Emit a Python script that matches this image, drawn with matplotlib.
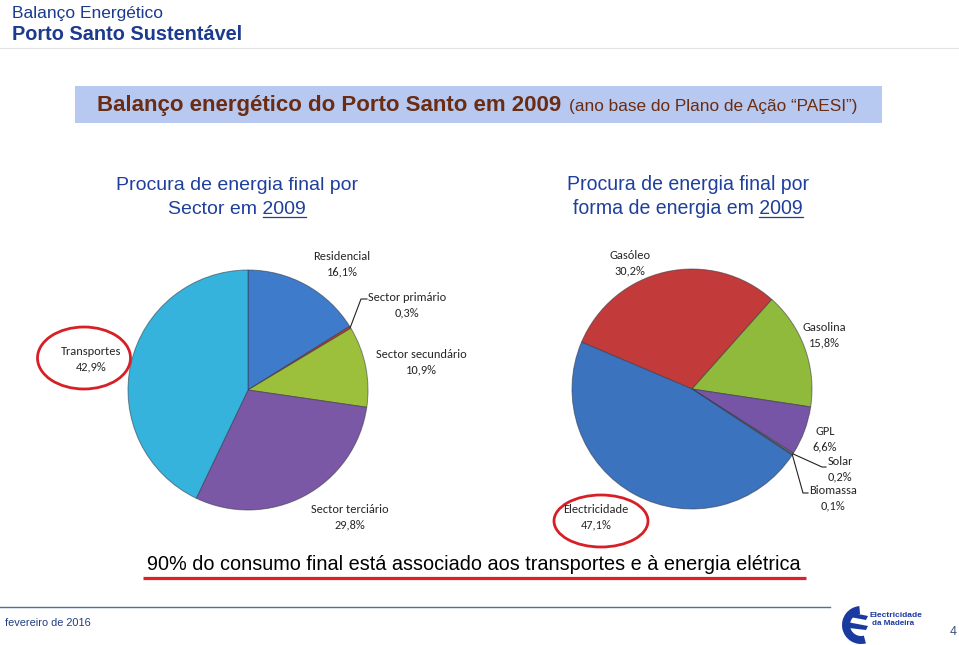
import numpy as np
import matplotlib
matplotlib.use("Agg")
import matplotlib.pyplot as plt
from matplotlib import font_manager
from matplotlib.patches import Ellipse, Rectangle, Wedge, Polygon

# ---------------- data ----------------
sector_labels = ["Residencial", "Sector primário", "Sector secundário",
                 "Sector terciário", "Transportes"]
sector_values = [16.1, 0.3, 10.9, 29.8, 42.9]

forma_labels = ["Gasóleo", "Gasolina", "GPL", "Solar", "Biomassa", "Electricidade"]
forma_values = [30.2, 15.8, 6.6, 0.2, 0.1, 47.1]

header_top = "Balanço Energético"
header_main = "Porto Santo Sustentável"
box_bold = "Balanço energético do Porto Santo em 2009"
box_regular = "(ano base do Plano de Ação “PAESI”)"
sub_left = ["Procura de energia final por", "Sector em ", "2009"]
sub_right = ["Procura de energia final por", "forma de energia em ", "2009"]
bottom_msg = "90% do consumo final está associado aos transportes e à energia elétrica"
footer_date = "fevereiro de 2016"
page_no = "4"

# ---------------- styles ----------------
names = {f.name for f in font_manager.fontManager.ttflist}
ARIAL = "Liberation Sans"
NARROW = "Liberation Sans Narrow" if "Liberation Sans Narrow" in names else ARIAL
CALIBRI = "Carlito" if "Carlito" in names else ("Lato" if "Lato" in names else "Open Sans")

sector_colors = ["#3f7bcb", "#c0392b", "#9dc03c", "#7b58a6", "#36b3dc"]
forma_colors = ["#c23b3a", "#8fba3c", "#7654a6", "#7f7f7f", "#4a7fc0", "#3b73bf"]

W, H = 959, 645
fig = plt.figure(figsize=(W / 100, H / 100), dpi=100)
ax = fig.add_axes([0, 0, 1, 1])
renderer = fig.canvas.get_renderer()


def Y(y):
    return H - y


def fit(x, y, s, width, ha="left", va="baseline", **kw):
    t = ax.text(x, Y(y), s, fontsize=10, ha=ha, va=va, **kw)
    w = t.get_window_extent(renderer).width
    t.set_fontsize(10 * width / w)
    return t


def text_width(s, size, **kw):
    t = ax.text(0, 0, s, fontsize=size, **kw)
    w = t.get_window_extent(renderer).width
    t.remove()
    return w


# ---------------- header ----------------
navy = "#1c3a8e"
fit(12, 18, header_top, 152, color=navy, family=ARIAL)
fit(12, 39.5, header_main, 230, color=navy, family=ARIAL, fontweight="bold")
ax.plot([0, W], [Y(48), Y(48)], color="#e3e3e3", lw=0.8)

# title box
ax.add_patch(Rectangle((75, Y(123)), 807, 37, facecolor="#b7c8f1", edgecolor="none"))
brown = "#6a2c12"
fit(97, 111, box_bold, 465, color=brown, family=NARROW, fontweight="bold")
fit(569, 111, box_regular, 288, color=brown, family=NARROW)

# subtitles
blue_sub = "#1f3f9c"
for cx, lines, w1 in [(237, sub_left, 242), (688, sub_right, 243)]:
    t1 = fit(cx, 190, lines[0], w1, ha="center", color=blue_sub, family=NARROW)
    fs = t1.get_fontsize()
    full = lines[1] + lines[2]
    wf = text_width(full, fs, family=NARROW)
    wy = text_width(lines[2], fs, family=NARROW)
    ax.text(cx, Y(214), full, fontsize=fs, ha="center", va="baseline",
            color=blue_sub, family=NARROW)
    x1 = cx + wf / 2
    ax.plot([x1 - wy, x1], [Y(216.5), Y(216.5)], color=blue_sub, lw=0.9)

# ---------------- pies ----------------
edge = dict(edgecolor=(0.2, 0.2, 0.25, 0.55), linewidth=0.7)
c1 = (248, Y(390))
c2 = (692, Y(389))
R = 120
ax.pie(sector_values, colors=sector_colors, startangle=90, counterclock=False,
       radius=R, center=c1, frame=True, wedgeprops=edge)
ax.pie(forma_values, colors=forma_colors, startangle=157, counterclock=False,
       radius=R, center=c2, frame=True, wedgeprops=edge)


def fmt(name, v):
    return f"{name}\n{v:.1f}%".replace(".", ",")


# pie label font size (fit to "Residencial" width)
tmp = text_width("Residencial", 10, family=CALIBRI)
lab_fs = 10 * 57 / tmp

sector_pos = [(342, 264), (407, 305), (421, 362), (350, 517), (91, 359)]
for name, v, (x, y) in zip(sector_labels, sector_values, sector_pos):
    ax.text(x, Y(y), fmt(name, v), fontsize=lab_fs, ha="center", va="center",
            family=CALIBRI, color="#262626", linespacing=1.45)

forma_pos = [(630, 263), (824, 335), (825, 439), (840, 469), (833, 498), (596, 517)]
for name, v, (x, y) in zip(forma_labels, forma_values, forma_pos):
    ax.text(x, Y(y), fmt(name, v), fontsize=lab_fs, ha="center", va="center",
            family=CALIBRI, color="#262626", linespacing=1.45)


def edge_point(center, values, idx, start):
    cum = np.cumsum([0] + list(values))
    mid = start - (cum[idx] + values[idx] / 2) / sum(values) * 360
    a = np.deg2rad(mid)
    return center[0] + R * np.cos(a), center[1] + R * np.sin(a)


# leader lines
px, py = edge_point(c1, sector_values, 1, 90)
ax.plot([px, 361, 367], [py, Y(299), Y(299)], color="#222222", lw=0.8)
px, py = edge_point(c2, forma_values, 3, 157)
ax.plot([px, 822, 826], [py, Y(467), Y(467)], color="#222222", lw=0.8)
px, py = edge_point(c2, forma_values, 4, 157)
ax.plot([px, 803, 808], [py, Y(493), Y(493)], color="#222222", lw=0.8)

# red ellipses
red = "#d71f26"
ax.add_patch(Ellipse((84, Y(358)), 93, 62, fill=False, edgecolor=red, lw=2.0))
ax.add_patch(Ellipse((601, Y(521)), 94, 52, fill=False, edgecolor=red, lw=2.0))

# bottom message
fit(474, 570, bottom_msg, 652, ha="center", color="black", family=NARROW)
ax.plot([143, 806], [Y(578), Y(578)], color="#e02028", lw=2.3, solid_capstyle="butt")

# ---------------- footer ----------------
ax.plot([0, 830], [Y(607), Y(607)], color="#4d6ea6", lw=1.0)
fit(5, 626, footer_date, 86, color="#1f3d80", family=NARROW)
ax.text(953, Y(635), page_no, fontsize=9, ha="center", va="baseline",
        color="#3b4f7a", family=NARROW)

# logo (simplified)
logo_blue = "#1a3aa0"
ax.add_patch(Wedge((861, Y(625)), 19, 95, 285, width=8, facecolor=logo_blue, edgecolor="none"))
ax.add_patch(Polygon([(848, Y(612)), (868, Y(616)), (866, Y(620)), (850, Y(617))],
                     closed=True, facecolor=logo_blue, edgecolor="none"))
ax.add_patch(Polygon([(847, Y(622)), (868, Y(626)), (866, Y(630)), (849, Y(628))],
                     closed=True, facecolor=logo_blue, edgecolor="none"))
fit(869, 617, "Electricidade", 52, color=logo_blue, family=ARIAL, fontweight="bold")
fit(872, 625, "da Madeira", 42, color=logo_blue, family=ARIAL, fontweight="bold")

ax.set_xlim(0, W)
ax.set_ylim(0, H)
ax.set_aspect("auto")
ax.axis("off")
fig.savefig("out.png", dpi=100, facecolor="white")
